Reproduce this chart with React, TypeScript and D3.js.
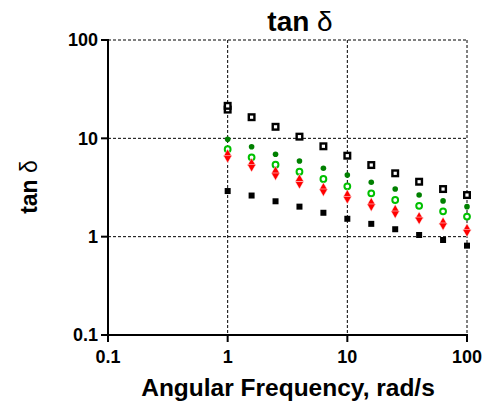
import React from "react";
import * as d3 from "d3";

const freq = [1, 1.585, 2.512, 3.981, 6.31, 10, 15.85, 25.12, 39.81, 63.1, 100];
const openSquare = [19.6, 16.4, 13.1, 10.4, 8.3, 6.66, 5.35, 4.41, 3.62, 3.05, 2.65];
const openSquareRepeatFreq = [1];
const openSquareRepeat = [21.4];
const greenFilled = [9.8, 8.22, 6.88, 5.88, 4.96, 4.24, 3.57, 3.05, 2.65, 2.31, 2.02];
const greenOpen = [7.74, 6.41, 5.39, 4.58, 3.86, 3.25, 2.76, 2.36, 2.06, 1.81, 1.6];
const redUp = [6.93, 5.61, 4.66, 3.86, 3.16, 2.68, 2.23, 1.89, 1.6, 1.41, 1.21];
const redDown = [6.3, 5.11, 4.19, 3.43, 2.88, 2.42, 2.03, 1.72, 1.49, 1.3, 1.115];
const blackFilled = [2.91, 2.62, 2.29, 2.02, 1.75, 1.52, 1.35, 1.19, 1.04, 0.925, 0.81];

const xTicks = [0.1, 1, 10, 100];
const xTickLabels = ["0.1", "1", "10", "100"];
const yTicks = [0.1, 1, 10, 100];
const yTickLabels = ["0.1", "1", "10", "100"];
const xGrid = [1, 10, 100];
const yGrid = [1, 10, 100];

const W = 490;
const H = 408;
const L = 108, R = 467, T = 40, B = 335;
const FONT = "'Liberation Sans', Arial, sans-serif";

export default function App() {
  const x = d3.scaleLog().domain([0.1, 100]).range([L, R]);
  const y = d3.scaleLog().domain([0.1, 100]).range([B, T]);
  const tri = d3.symbol().type(d3.symbolTriangle).size(32)() as string;

  return (
    <svg width={W} height={H} style={{ position: "absolute", left: 0, top: 0, background: "#fff" }}>
      {/* grid */}
      {xGrid.map((v) => (
        <line key={"gx" + v} x1={x(v)} x2={x(v)} y1={T} y2={B} stroke="#000" strokeWidth={1} strokeDasharray="3,2" />
      ))}
      {yGrid.map((v) => (
        <line key={"gy" + v} x1={L} x2={R} y1={y(v)} y2={y(v)} stroke="#000" strokeWidth={1} strokeDasharray="3,2" />
      ))}
      {/* axes */}
      <line x1={L} x2={L} y1={T - 1} y2={B + 1} stroke="#000" strokeWidth={2} />
      <line x1={L - 1} x2={R + 1} y1={B} y2={B} stroke="#000" strokeWidth={2} />
      {yTicks.map((v, i) => (
        <g key={"yt" + v}>
          <line x1={L - 7} x2={L} y1={y(v)} y2={y(v)} stroke="#000" strokeWidth={2} />
          <text x={L - 10} y={y(v)} dy="0.36em" textAnchor="end" fontFamily={FONT} fontWeight="bold" fontSize={18}>
            {yTickLabels[i]}
          </text>
        </g>
      ))}
      {xTicks.map((v, i) => (
        <g key={"xt" + v}>
          <line x1={x(v)} x2={x(v)} y1={B} y2={B + 7} stroke="#000" strokeWidth={2} />
          <text x={x(v)} y={363} textAnchor="middle" fontFamily={FONT} fontWeight="bold" fontSize={18}>
            {xTickLabels[i]}
          </text>
        </g>
      ))}
      {/* titles */}
      <text x={300} y={31} textAnchor="middle" fontFamily={FONT} fontSize={28}>
        <tspan fontWeight="bold">tan </tspan>
        <tspan>δ</tspan>
      </text>
      <text x={288} y={396} textAnchor="middle" fontFamily={FONT} fontWeight="bold" fontSize={24.5}>
        Angular Frequency, rad/s
      </text>
      <text transform="translate(37,187) rotate(-90)" textAnchor="middle" fontFamily={FONT} fontSize={23}>
        <tspan fontWeight="bold">tan </tspan>
        <tspan>δ</tspan>
      </text>
      {/* series */}
      {openSquare.map((v, i) => (
        <rect key={"os" + i} x={x(freq[i]) - 2.8} y={y(v) - 2.8} width={5.6} height={5.6} fill="#fff" stroke="#000" strokeWidth={2.4} />
      ))}
      {openSquareRepeat.map((v, i) => (
        <rect key={"osr" + i} x={x(openSquareRepeatFreq[i]) - 2.8} y={y(v) - 2.8} width={5.6} height={5.6} fill="#fff" stroke="#000" strokeWidth={2.4} />
      ))}
      {greenFilled.map((v, i) => (
        <circle key={"gf" + i} cx={x(freq[i])} cy={y(v)} r={2.8} fill="#008000" />
      ))}
      {greenOpen.map((v, i) => (
        <circle key={"go" + i} cx={x(freq[i])} cy={y(v)} r={2.9} fill="#fff" stroke="#00c000" strokeWidth={2} />
      ))}
      {redUp.map((v, i) => (
        <path key={"ru" + i} d={tri} transform={`translate(${x(freq[i])},${y(v)})`} fill="#ff0000" stroke="#fff" strokeWidth={0.5} />
      ))}
      {redDown.map((v, i) => (
        <path key={"rd" + i} d={tri} transform={`translate(${x(freq[i])},${y(v)}) rotate(180)`} fill="#ff0000" stroke="#fff" strokeWidth={0.5} />
      ))}
      {blackFilled.map((v, i) => (
        <rect key={"bf" + i} x={x(freq[i]) - 3} y={y(v) - 3} width={6} height={6} fill="#000" />
      ))}
    </svg>
  );
}
